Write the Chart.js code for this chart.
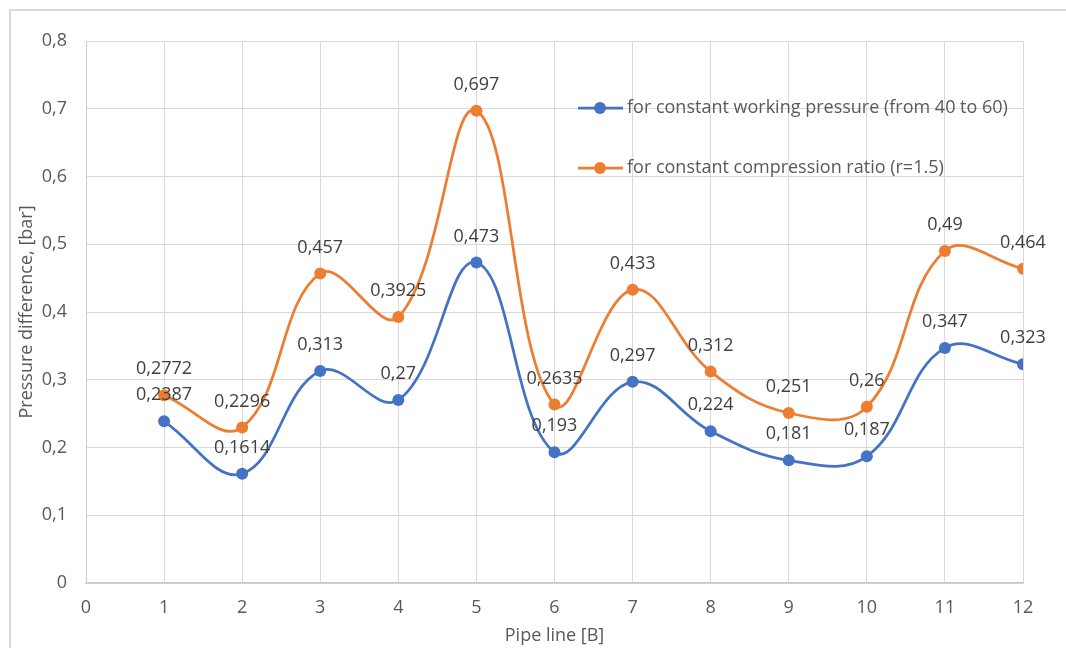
<!DOCTYPE html>
<html>
<head>
<meta charset="utf-8">
<script src="https://cdn.jsdelivr.net/npm/chart.js@4.4.1/dist/chart.umd.min.js"></script>
<style>
  body { margin: 0; background: #fff; }
  #wrap { position: relative; width: 1066px; height: 648px; overflow: hidden; }
  #frame { position: absolute; left: 9px; top: 9px; width: 1100px; height: 700px;
           border-top: 2px solid #d9d9d9; border-left: 2px solid #d9d9d9; }
  canvas { position: absolute; left: 0; top: 0; }
</style>
</head>
<body>
<div id="wrap">
  <div id="frame"></div>
  <canvas id="chart" width="1066" height="648"></canvas>
</div>
<script>
const pipes = [1, 2, 3, 4, 5, 6, 7, 8, 9, 10, 11, 12];
const workingPressure = [0.2387, 0.1614, 0.313, 0.27, 0.473, 0.193, 0.297, 0.224, 0.181, 0.187, 0.347, 0.323];
const compressionRatio = [0.2772, 0.2296, 0.457, 0.3925, 0.697, 0.2635, 0.433, 0.312, 0.251, 0.26, 0.49, 0.464];
const seriesNames = ['for constant working pressure (from 40 to 60)', 'for constant compression ratio (r=1.5)'];
const colors = ['#4472C4', '#ED7D31'];

const FONT = '"Open Sans", sans-serif';
const comma = v => String(v).replace('.', ',');

// value labels above each point
const valueLabels = {
  id: 'valueLabels',
  afterDatasetsDraw(chart) {
    const ctx = chart.ctx;
    ctx.save();
    ctx.font = '18px ' + FONT;
    ctx.fillStyle = '#404040';
    ctx.textAlign = 'center';
    ctx.textBaseline = 'middle';
    chart.data.datasets.forEach((ds, i) => {
      chart.getDatasetMeta(i).data.forEach((pt, j) => {
        ctx.fillText(comma(ds.data[j].y), pt.x, pt.y - 26);
      });
    });
    ctx.restore();
  }
};

// legend sitting inside the plot area
const innerLegend = {
  id: 'innerLegend',
  afterDraw(chart) {
    const ctx = chart.ctx;
    ctx.save();
    ctx.font = '18px ' + FONT;
    ctx.textBaseline = 'middle';
    ctx.textAlign = 'left';
    [108, 168].forEach((y, i) => {
      ctx.strokeStyle = colors[i];
      ctx.lineWidth = 2.75;
      ctx.beginPath();
      ctx.moveTo(578, y);
      ctx.lineTo(623, y);
      ctx.stroke();
      ctx.fillStyle = colors[i];
      ctx.beginPath();
      ctx.arc(600, y, 6, 0, Math.PI * 2);
      ctx.fill();
      ctx.fillStyle = '#595959';
      ctx.fillText(seriesNames[i], 627, y);
    });
    ctx.restore();
  }
};

const makeSet = (vals, i) => ({
  label: seriesNames[i],
  data: pipes.map((p, k) => ({ x: p, y: vals[k] })),
  borderColor: colors[i],
  backgroundColor: colors[i],
  borderWidth: 2.75,
  pointRadius: 6,
  pointBorderWidth: 0,
  tension: 0.4
});

new Chart(document.getElementById('chart').getContext('2d'), {
  type: 'line',
  data: { datasets: [makeSet(compressionRatio, 1), makeSet(workingPressure, 0)] },
  options: {
    responsive: false,
    animation: false,
    devicePixelRatio: 1,
    layout: { padding: { left: 9, top: 41, right: 43, bottom: 0 } },
    plugins: { legend: { display: false }, tooltip: { enabled: false } },
    scales: {
      x: {
        type: 'linear',
        min: 0, max: 12,
        afterFit: s => { s.height = 65; },
        ticks: { stepSize: 1, padding: 14, color: '#595959', font: { family: FONT, size: 18 } },
        grid: { color: '#d9d9d9', drawTicks: false },
        border: { color: '#c8c8c8', width: 1.5 },
        title: { display: true, text: 'Pipe line [B]', color: '#595959', font: { family: FONT, size: 18 }, padding: { bottom: 1 } }
      },
      y: {
        min: 0, max: 0.8,
        afterFit: s => { s.width = 77; },
        ticks: { stepSize: 0.1, padding: 19, color: '#595959', font: { family: FONT, size: 18 },
                 callback: v => v === 0 ? '0' : v.toFixed(1).replace('.', ',') },
        grid: { color: '#d9d9d9', drawTicks: false },
        border: { color: '#d0d0d0' },
        title: { display: true, text: 'Pressure difference, [bar]', color: '#595959', font: { family: FONT, size: 18 }, padding: { top: 7 } }
      }
    }
  },
  plugins: [valueLabels, innerLegend]
});
</script>
</body>
</html>
